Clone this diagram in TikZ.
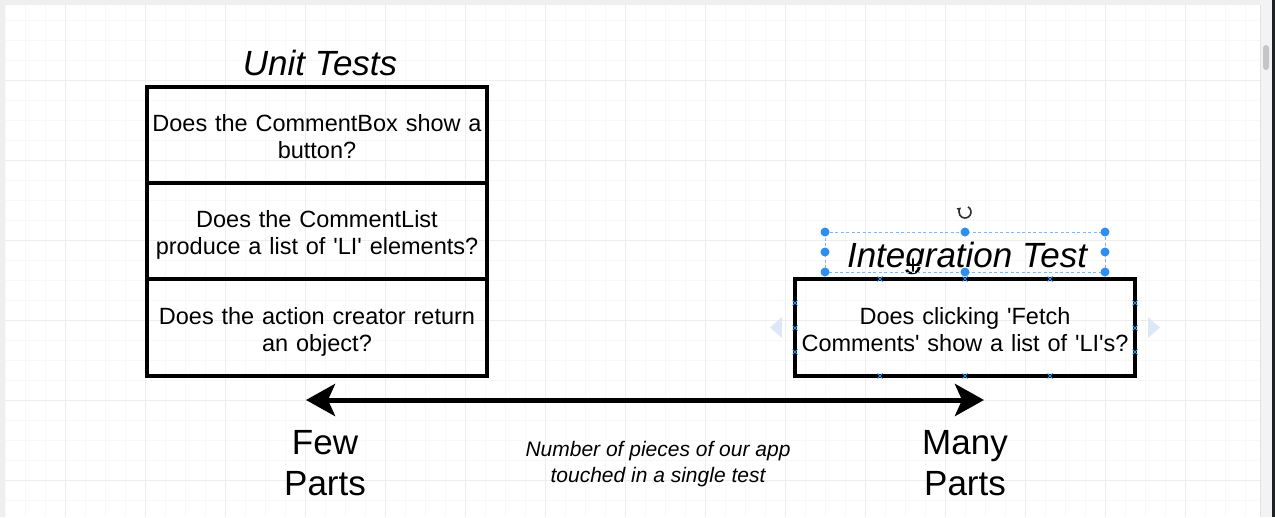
\documentclass[tikz,border=0pt]{standalone}
\usepackage{fontspec}
\setmainfont{Liberation Sans}
\usetikzlibrary{arrows.meta,positioning}
\definecolor{chrome}{HTML}{EFEFEF}
\definecolor{gridminor}{HTML}{F8F8F8}
\definecolor{gridmajor}{HTML}{EDEDED}
\definecolor{scrolltrack}{HTML}{F3F3F3}
\definecolor{scrolledge}{HTML}{E2E2E2}
\definecolor{scrollthumb}{HTML}{C6C6C6}
\definecolor{darkedge}{HTML}{1E2226}
\definecolor{selblue}{HTML}{2F8FF0}
\definecolor{seldash}{HTML}{7DB8F2}
\definecolor{ghostblue}{HTML}{DCE8F6}
\definecolor{iconGray}{HTML}{2E2E2E}
\newcommand\apos{\textquotesingle}

\begin{document}
\begin{tikzpicture}[x=1pt, y=-1pt,
		testbox/.style = {draw, line width=3.5pt, outer sep=0pt, inner sep=0pt,
				minimum width=340pt, minimum height=96pt, text width=338pt, align=center,
				text height=17pt, text depth=23.5pt, font=\fontsize{23.5}{27}\selectfont},
		boxtitle/.style = {anchor=base, inner sep=0pt, font=\fontsize{35}{40}\itshape},
		endlabel/.style = {inner sep=0pt, align=center, font=\fontsize{35}{41}\selectfont},
		handle/.style = {circle, fill=selblue, inner sep=0pt, minimum size=9pt},
		pin/.style = {selblue, line width=0.8pt},
	]
	\path[use as bounding box, fill=chrome] (0,0) rectangle (1275,517);
	\fill[white] (5,5) rectangle (1260,517);
	\foreach \gx in {5,25,...,1245}
	\draw[gridminor, line width=1pt] (\gx,5) -- (\gx,517);
	\foreach \gy in {20,40,...,500}
	\draw[gridminor, line width=1pt] (5,\gy) -- (1260,\gy);
	\foreach \gx in {65,145,...,1225}
	\draw[gridmajor, line width=1pt] (\gx,5) -- (\gx,517);
	\foreach \gy in {80,160,...,480}
	\draw[gridmajor, line width=1pt] (5,\gy) -- (1260,\gy);
	\fill[scrolltrack] (1260,0) rectangle (1272,517);
	\draw[scrolledge] (1260,5) -- (1260,517);
	\fill[scrollthumb, rounded corners=3pt] (1263,45) rectangle (1269,70);
	\fill[darkedge] (1272,0) rectangle (1275,517);

	\node[testbox] (commentbox) at (317,135) {Does the CommentBox show a\\button?};
	\node[testbox, below=0pt of commentbox] (commentlist) {Does the CommentList\\produce a list of \apos LI\apos{} elements?};
	\node[testbox, below=0pt of commentlist, minimum height=97pt] (actions) {Does the action creator return\\an object?};
	\node[boxtitle] (unittitle) at (320,75) {Unit Tests};

	\node[testbox, minimum height=97pt] (fetch) at (965,327.5) {Does clicking \apos Fetch\\Comments\apos{} show a list of \apos LI\apos s?};
	\node[boxtitle] (inttitle) at (967,267) {Integration Test};

	\coordinate (few) at (306,400);
	\coordinate (many) at (984,400);
	\draw[{Stealth[length=29pt, width=32pt, inset=7pt]}-{Stealth[length=29pt, width=32pt, inset=7pt]}, line width=5pt] (few) -- (many);
	\node[endlabel] (fewparts) at (325,463) {Few\\Parts};
	\node[endlabel] (manyparts) at (965,463) {Many\\Parts};
	\node[inner sep=0pt, align=center, font=\fontsize{21}{26}\itshape] (scale) at (658,464) {Number of pieces of our app\\touched in a single test};

	\fill[ghostblue] (782,317) -- (770,327.5) -- (782,338) -- cycle;
	\fill[ghostblue] (1148,317) -- (1160,327.5) -- (1148,338) -- cycle;
	\foreach \px in {880,965,1050} {
			\draw[pin] (\px-2.5,276.5) -- (\px+2.5,281.5) (\px-2.5,281.5) -- (\px+2.5,276.5);
			\draw[pin] (\px-2.5,373.5) -- (\px+2.5,378.5) (\px-2.5,378.5) -- (\px+2.5,373.5);
		}
	\foreach \py in {303,328,352} {
			\draw[pin] (792.5,\py-2.5) -- (797.5,\py+2.5) (792.5,\py+2.5) -- (797.5,\py-2.5);
			\draw[pin] (1132.5,\py-2.5) -- (1137.5,\py+2.5) (1132.5,\py+2.5) -- (1137.5,\py-2.5);
		}
	\draw[seldash, line width=0.9pt, dash pattern=on 3pt off 2.5pt] (825,232) rectangle (1105,272);
	\foreach \hx/\hy in {825/232, 965/232, 1105/232, 825/252, 1105/252, 825/272, 965/272, 1105/272}
	\node[handle] at (\hx,\hy) {};
	\draw[iconGray, line width=1.6pt, -{Latex[length=4pt, width=5pt]}] (965,212) ++(-60:6) arc(-60:230:6);
	\draw[white, line width=3pt] (905,265) -- (921,265) (913,257) -- (913,273);
	\draw[black, line width=1.3pt, {Latex[length=3pt]}-{Latex[length=3pt]}] (905,265) -- (921,265);
	\draw[black, line width=1.3pt, {Latex[length=3pt]}-{Latex[length=3pt]}] (913,257) -- (913,273);
\end{tikzpicture}
\end{document}
